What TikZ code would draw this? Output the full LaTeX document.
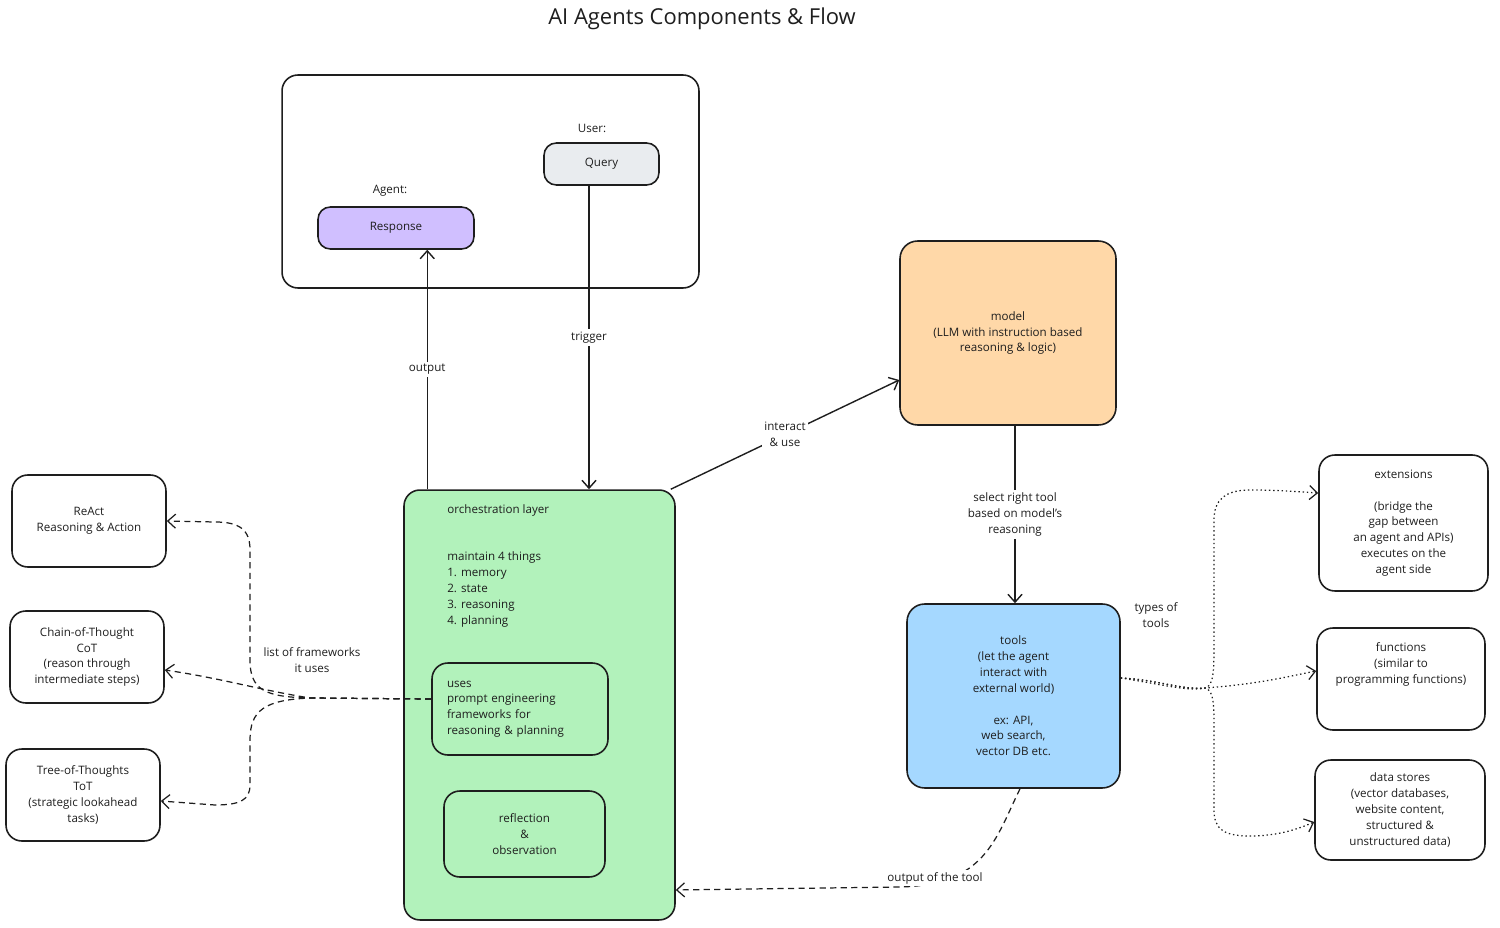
\documentclass[tikz,border=0pt]{standalone}
\usepackage{fontspec}
\setmainfont{Open Sans}
\usetikzlibrary{arrows.meta}
\definecolor{ink}{HTML}{1E1E1E}
\definecolor{gfill}{HTML}{B2F2BB}
\definecolor{ofill}{HTML}{FFD8A8}
\definecolor{bfill}{HTML}{A5D8FF}
\definecolor{pfill}{HTML}{D0BFFF}
\definecolor{qfill}{HTML}{E9ECEF}
\tikzset{
  box/.style={draw=ink, line width=0.9pt, rounded corners=7pt, align=center, inner sep=0pt,
    font=\fontsize{6.6}{9}\selectfont, text=ink},
  txt/.style={font=\fontsize{6.6}{9}\selectfont, text=ink, align=center, inner sep=1pt},
  arr/.style={draw=ink, line width=0.8pt, -{Straight Barb[length=4.5pt,width=8pt]}},
  dasharr/.style={arr, line width=0.7pt, dash pattern=on 3.5pt off 2.5pt},
  dotarr/.style={arr, line width=0.7pt, dash pattern=on 0.8pt off 1.6pt},
  lbl/.style={txt, fill=white, inner sep=1.5pt}
}
\begin{document}
\begin{tikzpicture}[x=0.02cm,y=-0.02cm]
\useasboundingbox (0,0) rectangle (1500,928);

\node[font=\fontsize{12.5}{15}\selectfont, text=ink] (title) at (702,19) {AI Agents Components \& Flow};

% top container
\node[box, minimum width=8.34cm, minimum height=4.26cm, rounded corners=9pt] (outer) at (490.5,181.5) {};
\node[box, fill=qfill, minimum width=2.30cm, minimum height=0.84cm] (query) at (601.5,164) {Query};
\node[txt] (userlbl) at (592,128) {User:};
\node[box, fill=pfill, minimum width=3.12cm, minimum height=0.84cm] (resp) at (396,228) {Response};
\node[txt] (agentlbl) at (390,191) {Agent:};

% orchestration
\node[box, fill=gfill, minimum width=5.42cm, minimum height=8.60cm, rounded corners=9pt] (orch) at (539.5,705) {};
\node[txt, align=left, anchor=north west, inner sep=0pt] (orchtxt) at (447,504)
  {orchestration layer\\[18.1pt]maintain 4 things\\1. memory\\2. state\\3. reasoning\\4. planning};
\node[box, align=left, text width=2.92cm, inner xsep=0.3cm, minimum height=1.84cm, rounded corners=9pt] (uses) at (520,709)
  {uses\\prompt engineering\\frameworks for\\reasoning \& planning};
\node[box, minimum width=3.22cm, minimum height=1.72cm, rounded corners=9pt] (refl) at (524.5,834)
  {reflection\\\&\\observation};

% model & tools
\node[box, fill=ofill, minimum width=4.32cm, minimum height=3.68cm, rounded corners=10pt] (model) at (1008,333)
  {model\\(LLM with instruction based\\reasoning \& logic)};
\node[box, fill=bfill, minimum width=4.26cm, minimum height=3.68cm, rounded corners=10pt] (tools) at (1013.5,696)
  {tools\\(let the agent\\interact with\\external world)\\[9pt]ex: API,\\web search,\\vector DB etc.};

% tool types
\node[box, minimum width=3.38cm, minimum height=2.72cm, rounded corners=9pt] (ext) at (1403.5,523)
  {extensions\\[9pt](bridge the\\gap between\\an agent and APIs)\\executes on the\\agent side};
\node[box, minimum width=3.36cm, minimum height=2.04cm, rounded corners=9pt] (func) at (1401,679)
  {functions\\(similar to\\programming functions)\\[9pt]};
\node[box, minimum width=3.40cm, minimum height=2.00cm, rounded corners=9pt] (data) at (1400,810)
  {data stores\\(vector databases,\\website content,\\structured \&\\unstructured data)};
\node[txt] (types) at (1156,615) {types of\\tools};

% frameworks
\node[box, minimum width=3.08cm, minimum height=1.84cm, rounded corners=9pt] (react) at (89,521)
  {ReAct\\Reasoning \& Action};
\node[box, minimum width=3.08cm, minimum height=1.84cm, rounded corners=9pt] (cot) at (87,657)
  {Chain-of-Thought\\CoT\\(reason through\\intermediate steps)};
\node[box, minimum width=3.08cm, minimum height=1.84cm, rounded corners=9pt] (tot) at (83,795)
  {Tree-of-Thoughts\\ToT\\(strategic lookahead\\tasks)};
\node[txt] (fwlbl) at (312,660) {list of frameworks\\it uses};

% connectors
\draw[arr] ([xshift=0.48cm]orch.north west) -- node[lbl] {output} ([xshift=0.48cm]orch.north west |- resp.south);
\draw[arr] ([xshift=-0.25cm]query.south) -- node[lbl, pos=0.5] {trigger} ([xshift=-0.25cm]query.south |- orch.north);
\draw[arr] ([xshift=-0.1cm]orch.north east) -- node[lbl] {interact\\\& use} ([yshift=-0.94cm]model.west);
\draw[arr] ([xshift=0.14cm]model.south) -- node[lbl] {select right tool\\based on model's\\reasoning} ([xshift=0.14cm]model.south |- tools.north);

% tools -> types (dotted)
\coordinate (tj) at (1205,688);
\draw[dotarr] ([yshift=0.36cm]tools.east) .. controls (1160,680) and (1180,690) .. (tj)
  .. controls (1214,686) and (1214,670) .. (1214,640) -- (1214,520)
  .. controls (1214,500) and (1225,490) .. (1250,490)
  .. controls (1280,490) and (1300,492) .. ([yshift=0.6cm]ext.west);
\draw[dotarr] ([yshift=0.36cm]tools.east) .. controls (1160,684) and (1190,692) .. (tj)
  .. controls (1260,684) and (1290,676) .. ([yshift=0.16cm]func.west);
\draw[dotarr] ([yshift=0.36cm]tools.east) .. controls (1160,680) and (1180,690) .. (tj)
  .. controls (1214,690) and (1214,705) .. (1214,730) -- (1214,810)
  .. controls (1214,830) and (1225,836) .. (1250,836)
  .. controls (1280,836) and (1300,828) .. ([yshift=-0.24cm]data.west);

% uses -> frameworks (dashed)
\coordinate (fj) at (310,698);
\draw[dasharr] ([yshift=0.2cm]uses.west) -- (fj)
  .. controls (265,697) and (250,690) .. (250,660) -- (250,550)
  .. controls (250,530) and (240,522) .. (215,522) -- (react.east);
\draw[dasharr] ([yshift=0.2cm]uses.west) -- (fj)
  .. controls (260,690) and (220,678) .. ([yshift=-0.26cm]cot.east);
\draw[dasharr] ([yshift=0.2cm]uses.west) -- (fj)
  .. controls (265,700) and (250,710) .. (250,740) -- (250,785)
  .. controls (250,800) and (240,805) .. (215,805) -- ([yshift=-0.12cm]tot.east);

% tools -> orch (dashed)
\draw[dasharr] ([xshift=0.13cm]tools.south) .. controls (995,840) and (985,885) .. (900,887)
  -- ([yshift=-3.7cm]orch.east);
\node[lbl] (outlbl) at (935,878) {output of the tool};
\end{tikzpicture}
\end{document}
